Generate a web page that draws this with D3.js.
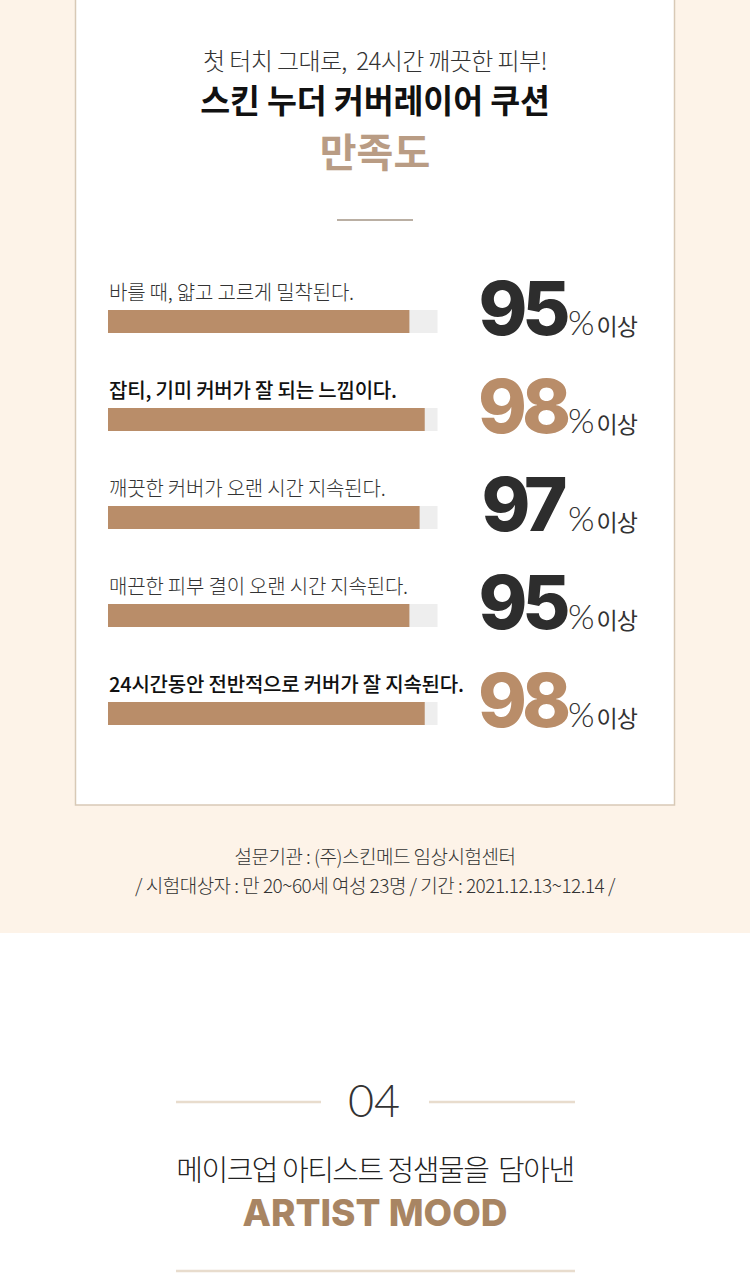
<!DOCTYPE html>
<html>
<head>
<meta charset="utf-8">
<script src="https://cdn.jsdelivr.net/npm/d3@7"></script>
<style>
  html, body { margin: 0; padding: 0; background: #fff; }
  svg { display: block; }
  text { white-space: pre; }
</style>
</head>
<body>
<svg width="750" height="1280"></svg>
<script>
// survey items and results
var labels = [
  "바를 때, 얇고 고르게 밀착된다.",
  "잡티, 기미 커버가 잘 되는 느낌이다.",
  "깨끗한 커버가 오랜 시간 지속된다.",
  "매끈한 피부 결이 오랜 시간 지속된다.",
  "24시간동안 전반적으로 커버가 잘 지속된다."
];
var values = [95, 98, 97, 95, 98];
var highlight = [false, true, false, false, true];

var headLines = ["첫 터치 그대로,  24시간 깨끗한 피부!", "스킨 누더 커버레이어 쿠션", "만족도"];
var noteLines = ["설문기관 : (주)스킨메드 임상시험센터", "/ 시험대상자 : 만 20~60세 여성 23명 / 기간 : 2021.12.13~12.14 /"];
var suffix = ["%", "이상"];
var nextTitle = ["04", "메이크업 아티스트 정샘물을  담아낸", "ARTIST MOOD"];

var KR = "'Noto Sans CJK KR', 'Noto Sans', sans-serif";
var TAN = "#b98d69", DARK = "#2d2d2d";

var svg = d3.select("svg"),
    width = +svg.attr("width");

// backgrounds
svg.append("rect").attr("x", 0).attr("y", 0).attr("width", width).attr("height", 933).attr("fill", "#fdf3e8");
svg.append("rect").attr("x", 75.5).attr("y", -10).attr("width", 599).attr("height", 815)
    .attr("fill", "#fff").attr("stroke", "#d8c9b6").attr("stroke-width", 1.5);

// header
svg.append("text").attr("x", 375).attr("y", 70).attr("text-anchor", "middle")
    .style("font-family", KR).style("font-size", "24px").style("font-weight", 300)
    .attr("fill", "#333").attr("letter-spacing", -0.6).text(headLines[0]);
svg.append("text").attr("x", 375).attr("y", 113).attr("text-anchor", "middle")
    .style("font-family", KR).style("font-size", "32.5px").style("font-weight", 700)
    .attr("fill", "#111").attr("letter-spacing", -0.1).text(headLines[1]);
svg.append("text").attr("x", 375).attr("y", 167).attr("text-anchor", "middle")
    .style("font-family", KR).style("font-size", "40px").style("font-weight", 700)
    .attr("fill", "#b99c84").text(headLines[2]);
svg.append("line").attr("x1", 337).attr("x2", 413).attr("y1", 220).attr("y2", 220)
    .attr("stroke", "#a39585").attr("stroke-width", 1.5);

// scales
var x = d3.scaleLinear().domain([36, 100.5]).range([108, 437.5]);
var y = d3.scaleLinear().domain([0, labels.length - 1]).range([310, 702]);
var barH = 23;

var rows = svg.append("g").selectAll("g")
  .data(values)
  .enter()
  .append("g")
    .attr("transform", function(d, i) { return "translate(0," + y(i) + ")"; });

rows.append("rect") // track
    .attr("x", x.range()[0]).attr("y", 0)
    .attr("width", x.range()[1] - x.range()[0]).attr("height", barH)
    .attr("fill", "#eeeeee");

rows.append("rect") // value
    .attr("x", x.range()[0]).attr("y", 0)
    .attr("width", function(d) { return x(d) - x.range()[0]; }).attr("height", barH)
    .attr("fill", TAN);

rows.append("text")
    .attr("x", 109).attr("y", -10)
    .style("font-family", KR).style("font-size", "20px")
    .style("font-weight", function(d, i) { return highlight[i] ? 500 : 300; })
    .attr("letter-spacing", -0.2)
    .attr("fill", function(d, i) { return highlight[i] ? "#111" : "#333"; })
    .text(function(d, i) { return labels[i]; });

rows.append("text")
    .attr("x", 522).attr("y", barH + 2).attr("text-anchor", "middle")
    .style("font-family", "Inter, Lato, sans-serif").style("font-size", "74px").style("font-weight", 800)
    .attr("letter-spacing", -5)
    .attr("fill", function(d, i) { return highlight[i] ? TAN : DARK; })
    .text(function(d) { return d; });

var suf = rows.append("text")
    .attr("x", 568).attr("y", barH + 2)
    .attr("fill", "#333");
suf.append("tspan").style("font-family", "Lato, sans-serif").style("font-size", "34px").style("font-weight", 300)
    .text(suffix[0]);
suf.append("tspan").attr("dx", 2).style("font-family", KR).style("font-size", "23px").style("font-weight", 400)
    .attr("letter-spacing", -1).text(suffix[1]);

// note
svg.selectAll(".note").data(noteLines).enter().append("text")
    .attr("class", "note")
    .attr("x", 375).attr("y", function(d, i) { return 864 + i * 29; })
    .attr("text-anchor", "middle")
    .style("font-family", KR).style("font-size", "19px").style("font-weight", 300)
    .attr("letter-spacing", -0.5).attr("fill", "#333")
    .text(function(d) { return d; });

// next section
var lineCol = "#e8dccd";
svg.append("line").attr("x1", 176).attr("x2", 321).attr("y1", 1102).attr("y2", 1102).attr("stroke", lineCol).attr("stroke-width", 2.5);
svg.append("line").attr("x1", 429).attr("x2", 575).attr("y1", 1102).attr("y2", 1102).attr("stroke", lineCol).attr("stroke-width", 2.5);
svg.append("text").attr("x", 374).attr("y", 1117).attr("text-anchor", "middle")
    .style("font-family", "Lato, 'Noto Sans', sans-serif").style("font-size", "45px").style("font-weight", 300)
    .attr("fill", "#333").text(nextTitle[0]);
svg.append("text").attr("x", 375).attr("y", 1181).attr("text-anchor", "middle")
    .style("font-family", KR).style("font-size", "29px").style("font-weight", 300)
    .attr("letter-spacing", -1.5).attr("fill", "#222").text(nextTitle[1]);
svg.append("text").attr("x", 375).attr("y", 1226).attr("text-anchor", "middle")
    .style("font-family", "Inter, Lato, sans-serif").style("font-size", "37px").style("font-weight", 800)
    .attr("letter-spacing", 0).attr("fill", "#a88563").text(nextTitle[2]);
svg.append("line").attr("x1", 176).attr("x2", 575).attr("y1", 1271).attr("y2", 1271).attr("stroke", lineCol).attr("stroke-width", 2.5);
</script>
</body>
</html>
